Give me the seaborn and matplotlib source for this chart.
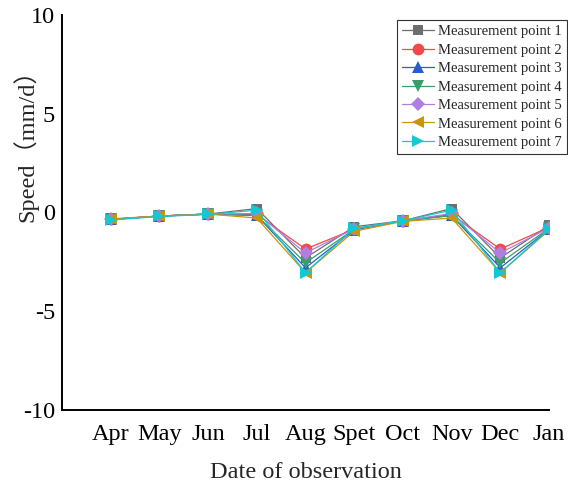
import matplotlib
matplotlib.use("Agg")
import matplotlib.pyplot as plt
from matplotlib.ticker import MultipleLocator
import seaborn as sns
import pandas as pd

months = ["Apr", "May", "Jun", "Jul", "Aug", "Spet", "Oct", "Nov", "Dec", "Jan"]
p1 = [-0.35, -0.18, -0.08, 0.20, -2.30, -0.72, -0.42, 0.20, -2.30, -0.65]
p2 = [-0.35, -0.18, -0.08, -0.10, -1.85, -0.85, -0.42, -0.10, -1.85, -0.75]
p3 = [-0.35, -0.18, -0.08, -0.15, -2.80, -0.88, -0.42, -0.15, -2.80, -0.85]
p4 = [-0.35, -0.18, -0.08, -0.15, -2.55, -0.85, -0.42, -0.15, -2.55, -0.80]
p5 = [-0.35, -0.18, -0.08, -0.05, -2.05, -0.82, -0.42, -0.05, -2.05, -0.78]
p6 = [-0.32, -0.18, -0.08, -0.28, -3.05, -0.95, -0.45, -0.28, -3.05, -0.90]
p7 = [-0.38, -0.20, -0.10, 0.12, -3.05, -0.80, -0.42, 0.12, -3.05, -0.85]
series_names = ["Measurement point %d" % i for i in range(1, 8)]
series_values = [p1, p2, p3, p4, p5, p6, p7]

colors = ["#6e6e6e", "#f04a4a", "#2060d0", "#3a9e6a", "#b07ee0", "#c8960a", "#14c8d2"]
markers = ["s", "o", "^", "v", "D", "<", ">"]
msizes = [7.5, 8.5, 8.5, 8.5, 7.5, 8.5, 8.5]

rows = []
for name, vals in zip(series_names, series_values):
    for m, v in zip(months, vals):
        rows.append({"month": m, "speed": v, "series": name})
df = pd.DataFrame(rows)

sns.set_style("white")
plt.rcParams["font.family"] = ["Liberation Serif", "Noto Sans CJK SC"]
plt.rcParams["axes.unicode_minus"] = False

fig = plt.figure(figsize=(5.68, 4.82), dpi=100)
ax = fig.add_axes([62 / 568, 1 - 410 / 482, (549 - 62) / 568, (410 - 15) / 482])

for i, name in enumerate(series_names):
    sub = df[df["series"] == name]
    sns.lineplot(data=sub, x="month", y="speed", ax=ax, color=colors[i],
                 marker=markers[i], markersize=msizes[i], markeredgewidth=0,
                 linewidth=0.9, sort=False, label=name, legend=False)

ax.set_xlim(-1, 9)
ax.set_ylim(-10, 10)
ax.set_xticks(range(len(months)))
ax.set_xticklabels(months)
ax.yaxis.set_major_locator(MultipleLocator(5))
ax.yaxis.set_minor_locator(MultipleLocator(2.5))

for s in ["top", "right"]:
    ax.spines[s].set_visible(False)
for s in ["left", "bottom"]:
    ax.spines[s].set_color("black")
    ax.spines[s].set_linewidth(1.4)

ax.tick_params(axis="both", which="major", direction="in", length=6, width=1.2,
               labelsize=17.5, colors="black", pad=5)
ax.tick_params(axis="y", which="minor", direction="in", length=6, width=1.2)
ax.tick_params(axis="x", pad=10)

ax.set_xlabel("Date of observation", fontsize=17.5, labelpad=12)
ax.set_ylabel("Speed（mm/d）", fontsize=17.5)
ax.yaxis.set_label_coords((38 - 62) / 487, (410 - 140) / 395)

leg = ax.legend(loc="upper right", bbox_to_anchor=(567 / 568, 1 - 20 / 482),
                bbox_transform=fig.transFigure, fontsize=10.5, frameon=True,
                fancybox=False, edgecolor="#333333", framealpha=1,
                handlelength=2.2, handletextpad=0.3, labelspacing=0.36,
                borderpad=0.35, borderaxespad=0)
leg.get_frame().set_linewidth(0.8)

fig.savefig("out.png", dpi=100)
